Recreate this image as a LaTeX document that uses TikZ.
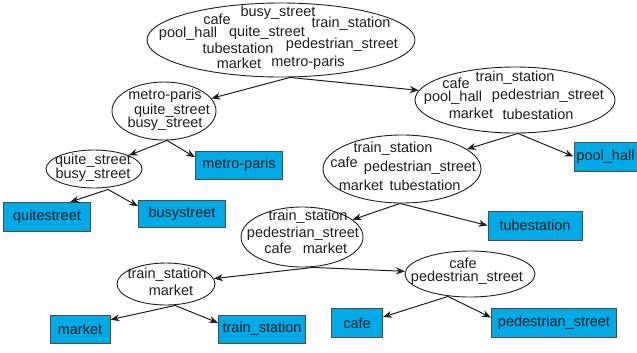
\documentclass[tikz,border=0pt]{standalone}
\usepackage{fontspec}
\setmainfont{Liberation Sans}
\usetikzlibrary{arrows.meta,shapes.geometric}
\definecolor{boxblue}{RGB}{0,170,230}
\definecolor{ink}{RGB}{30,30,30}
\tikzset{
  lbl/.style={font=\fontsize{14.5bp}{17bp}\selectfont, inner sep=0pt, text=ink},
  ell/.style={draw=ink, line width=0.9bp, ellipse, inner sep=0pt},
  leaf/.style={draw=ink!80, line width=1bp, fill=boxblue, rectangle, inner sep=0pt,
    font=\fontsize{14.5bp}{17bp}\selectfont, text=ink},
  edge/.style={draw=ink, line width=1bp, -{Stealth[length=9bp,width=7bp]}}
}
\begin{document}
\begin{tikzpicture}[x=1bp,y=-1bp]
\useasboundingbox (0,0) rectangle (637,352);

% ellipses
\node[ell, minimum width=268bp, minimum height=74bp] (root) at (281,40) {};
\node[ell, minimum width=104bp, minimum height=58bp] (em) at (164,111) {};
\node[ell, minimum width=96bp, minimum height=38bp] (eq) at (94,169) {};
\node[ell, minimum width=200bp, minimum height=66bp] (er) at (515,100) {};
\node[ell, minimum width=158bp, minimum height=68bp] (e9) at (402,169) {};
\node[ell, minimum width=122bp, minimum height=60bp] (e11) at (302,237) {};
\node[ell, minimum width=98bp, minimum height=42bp] (e12) at (166,284) {};
\node[ell, minimum width=130bp, minimum height=46bp] (e13) at (470,274) {};

% root labels
\node[lbl] (r1) at (217,19) {cafe};
\node[lbl] (r2) at (278,13) {busy\_street};
\node[lbl] (r3) at (351,24) {train\_station};
\node[lbl] (r4) at (188,34) {pool\_hall};
\node[lbl] (r5) at (267,33) {quite\_street};
\node[lbl] (r6) at (238,48) {tubestation};
\node[lbl] (r7) at (342,45) {pedestrian\_street};
\node[lbl] (r8) at (239,63) {market};
\node[lbl] (r9) at (308,63) {metro-paris};

% em labels
\node[lbl] (m1) at (165,96) {metro-paris};
\node[lbl] (m2) at (172,111) {quite\_street};
\node[lbl] (m3) at (165,124) {busy\_street};

% eq labels
\node[lbl] (q1) at (93,161) {quite\_street};
\node[lbl] (q2) at (93,175) {busy\_street};

% er labels
\node[lbl] (a1) at (456,83) {cafe};
\node[lbl] (a2) at (515,78) {train\_station};
\node[lbl] (a3) at (453,98) {pool\_hall};
\node[lbl] (a4) at (548,96) {pedestrian\_street};
\node[lbl] (a5) at (471,113) {market};
\node[lbl] (a6) at (538,114) {tubestation};

% e9 labels
\node[lbl] (b1) at (393,149) {train\_station};
\node[lbl] (b2) at (344,162) {cafe};
\node[lbl] (b3) at (420,168) {pedestrian\_street};
\node[lbl] (b4) at (361,185) {market};
\node[lbl] (b5) at (425,185) {tubestation};

% e11 labels
\node[lbl] (c1) at (308,217) {train\_station};
\node[lbl] (c2) at (303,234) {pedestrian\_street};
\node[lbl] (c3) at (278,248) {cafe};
\node[lbl] (c4) at (325,248) {market};

% e12 labels
\node[lbl] (d1) at (167,275) {train\_station};
\node[lbl] (d2) at (171,290) {market};

% e13 labels
\node[lbl] (f1) at (463,263) {cafe};
\node[lbl] (f2) at (467,278) {pedestrian\_street};

% leaves
\node[leaf, minimum width=87bp, minimum height=28bp] (mb) at (239,165) {metro-paris};
\node[leaf, minimum width=87bp, minimum height=29bp] (qs) at (47,217) {quitestreet};
\node[leaf, minimum width=87bp, minimum height=27bp] (bs) at (182,214) {busystreet};
\node[leaf, minimum width=63bp, minimum height=29bp] (ph) at (605.5,156.5) {pool\_hall};
\node[leaf, minimum width=94bp, minimum height=29bp] (tb) at (535,225.5) {tubestation};
\node[leaf, minimum width=60bp, minimum height=28bp] (mk) at (80,329) {market};
\node[leaf, minimum width=87bp, minimum height=28bp] (ts) at (262,329) {train\_station};
\node[leaf, minimum width=51bp, minimum height=29bp] (cf) at (357,323) {cafe};
\node[leaf, minimum width=125bp, minimum height=29bp] (ps) at (554,323) {pedestrian\_street};

% edge origins
\coordinate (o1) at ([xshift=9bp]root.south);
\coordinate (o2) at ([xshift=3bp]em.south);
\coordinate (o3) at ([xshift=14bp,yshift=-1bp]eq.south);
\coordinate (o4) at ([xshift=3bp]er.south);
\coordinate (o5) at ([xshift=-2bp]e9.south);
\coordinate (o6) at ([xshift=11bp]e11.south);
\coordinate (o7) at ([xshift=9bp]e12.south);
\coordinate (o8) at ([xshift=-22bp,yshift=1bp]e13.south);

% edges
\draw[edge] (o1) -- (em);
\draw[edge] (o1) -- (er);
\draw[edge] (o2) -- (eq);
\draw[edge] (o2) -- (mb.170);
\draw[edge] (o3) -- (qs.33);
\draw[edge] (o3) -- (bs.170);
\draw[edge] (o4) -- (e9);
\draw[edge] (o4) -- (ph.west);
\draw[edge] (o5) -- (e11);
\draw[edge] (o5) -- (tb.west);
\draw[edge] (o6) -- (e12);
\draw[edge] (o6) -- (e13);
\draw[edge] (o7) -- (mk.17);
\draw[edge] (o7) -- (ts.172);
\draw[edge] (o8) -- (cf.13);
\draw[edge] (o8) -- (ps.175);
\end{tikzpicture}
\end{document}
